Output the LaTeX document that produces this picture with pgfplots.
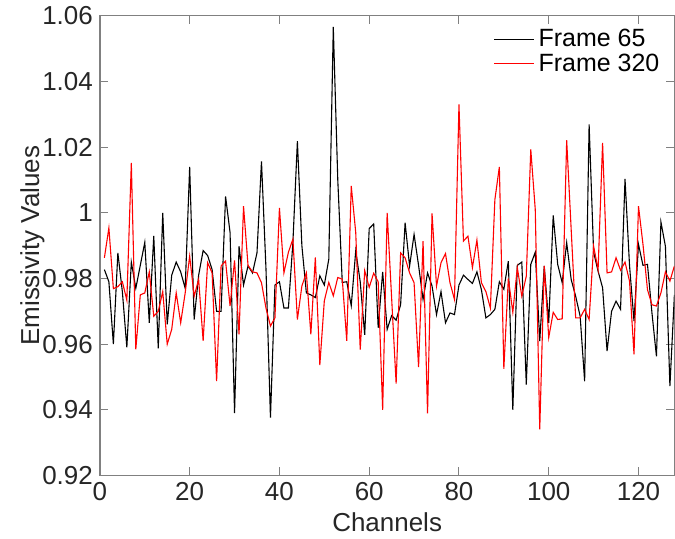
\documentclass[border=0pt]{standalone}
\usepackage{fontspec}
\setmainfont{Liberation Sans}
\usepackage{pgfplots}
\pgfplotsset{compat=1.18}
\definecolor{axgray}{HTML}{808080}
\definecolor{txt}{HTML}{262626}

% frame 65 (black) and frame 320 (red), channels 1..128
\pgfplotstableread{
ch f65 f320
1 0.9827 0.9863
2 0.9790 0.9954
3 0.9600 0.9769
4 0.9878 0.9775
5 0.9760 0.9790
6 0.9590 0.9734
7 0.9850 1.0152
8 0.9770 0.9584
9 0.9840 0.9750
10 0.9910 0.9756
11 0.9665 0.9820
12 0.9930 0.9685
13 0.9587 0.9700
14 1.0000 0.9760
15 0.9660 0.9600
16 0.9810 0.9645
17 0.9850 0.9756
18 0.9820 0.9665
19 0.9770 0.9756
20 1.0140 0.9868
21 0.9675 0.9746
22 0.9810 0.9797
23 0.9885 0.9610
24 0.9870 0.9848
25 0.9827 0.9817
26 0.9700 0.9487
27 0.9700 0.9838
28 1.0050 0.9853
29 0.9940 0.9716
30 0.9390 0.9855
31 0.9898 0.9630
32 0.9780 1.0020
33 0.9838 0.9840
34 0.9817 0.9820
35 0.9878 0.9817
36 1.0157 0.9787
37 0.9830 0.9710
38 0.9376 0.9655
39 0.9780 0.9680
40 0.9790 1.0015
41 0.9710 0.9817
42 0.9710 0.9880
43 0.9910 0.9920
44 1.0218 0.9675
45 0.9900 0.9777
46 0.9756 0.9817
47 0.9750 0.9630
48 0.9742 0.9864
49 0.9808 0.9536
50 0.9780 0.9732
51 0.9859 0.9788
52 1.0566 0.9747
53 1.0100 0.9803
54 0.9788 0.9798
55 0.9790 0.9610
56 0.9717 1.0082
57 0.9884 0.9940
58 0.9790 0.9583
59 0.9628 0.9824
60 0.9952 0.9773
61 0.9966 0.9816
62 0.9650 0.9790
63 0.9820 0.9400
64 0.9645 1.0000
65 0.9687 0.9740
66 0.9673 0.9480
67 0.9720 0.9878
68 0.9970 0.9863
69 0.9838 0.9817
70 0.9934 0.9787
71 0.9840 0.9530
72 0.9736 0.9914
73 0.9817 0.9389
74 0.9777 0.9998
75 0.9690 0.9777
76 0.9760 0.9848
77 0.9665 0.9876
78 0.9695 0.9787
79 0.9690 0.9736
80 0.9780 1.0330
81 0.9810 0.9914
82 0.9797 0.9929
83 0.9785 0.9833
84 0.9820 0.9917
85 0.9766 0.9787
86 0.9680 0.9760
87 0.9690 0.9710
88 0.9706 1.0040
89 0.9790 1.0140
90 0.9767 0.9525
91 0.9853 0.9800
92 0.9400 0.9697
93 0.9840 0.9833
94 0.9850 0.9746
95 0.9477 0.9807
96 0.9843 1.0193
97 0.9880 1.0010
98 0.9609 0.9340
99 0.9838 0.9838
100 0.9665 0.9620
101 0.9992 0.9697
102 0.9843 0.9675
103 0.9787 0.9677
104 0.9909 1.0221
105 0.9797 0.9950
106 0.9746 0.9680
107 0.9685 0.9680
108 0.9487 0.9706
109 1.0269 0.9675
110 0.9880 0.9898
111 0.9822 0.9827
112 0.9772 1.0213
113 0.9579 0.9817
114 0.9700 0.9820
115 0.9731 0.9863
116 0.9706 0.9825
117 1.0103 0.9850
118 0.9840 0.9792
119 0.9670 0.9569
120 0.9904 1.0020
121 0.9840 0.9904
122 0.9843 0.9766
123 0.9695 0.9720
124 0.9563 0.9716
125 0.9972 0.9756
126 0.9898 0.9820
127 0.9472 0.9792
128 0.9750 0.9838
}\emis

\begin{document}
\begin{tikzpicture}
\begin{axis}[
  scale only axis,
  width=287.5pt,
  height=230pt,
  xmin=0, xmax=128,
  ymin=0.92, ymax=1.06,
  xtick={0,20,...,120},
  ytick={0.92,0.94,...,1.06},
  xlabel={Channels},
  ylabel={Emissivity Values},
  font=\fontsize{13}{15}\selectfont,
  tick label style={font=\fontsize{13}{15}\selectfont, text=txt},
  label style={text=txt},
  /pgf/number format/assume math mode=true,
  yticklabel style={/pgf/number format/fixed},
  axis line style={axgray, line width=0.6pt},
  tick style={axgray, line width=0.5pt},
  major tick length=4pt,
  tick align=inside,
  xlabel style={yshift=1pt},
  ylabel style={yshift=-8pt},
  legend style={at={(0.985,0.985)}, anchor=north east, draw=none, fill=none,
    font=\fontsize{12.5}{14}\selectfont, row sep=-2pt, inner sep=1pt},
  legend cell align=left,
  legend image code/.code={\draw[mark repeat=2,mark phase=2,#1] plot coordinates {(0pt,0pt) (10pt,0pt) (20pt,0pt)};},
]
  \addplot[black, line width=0.55pt, no markers] table[x=ch, y=f65] {\emis};
  \addlegendentry{Frame 65}
  \addplot[red, line width=0.55pt, no markers] table[x=ch, y=f320] {\emis};
  \addlegendentry{Frame 320}
\end{axis}
% keep the white margin left of the y label and under the x label
\path ([xshift=-50pt,yshift=-30pt]current axis.south west);
\end{tikzpicture}
\end{document}
